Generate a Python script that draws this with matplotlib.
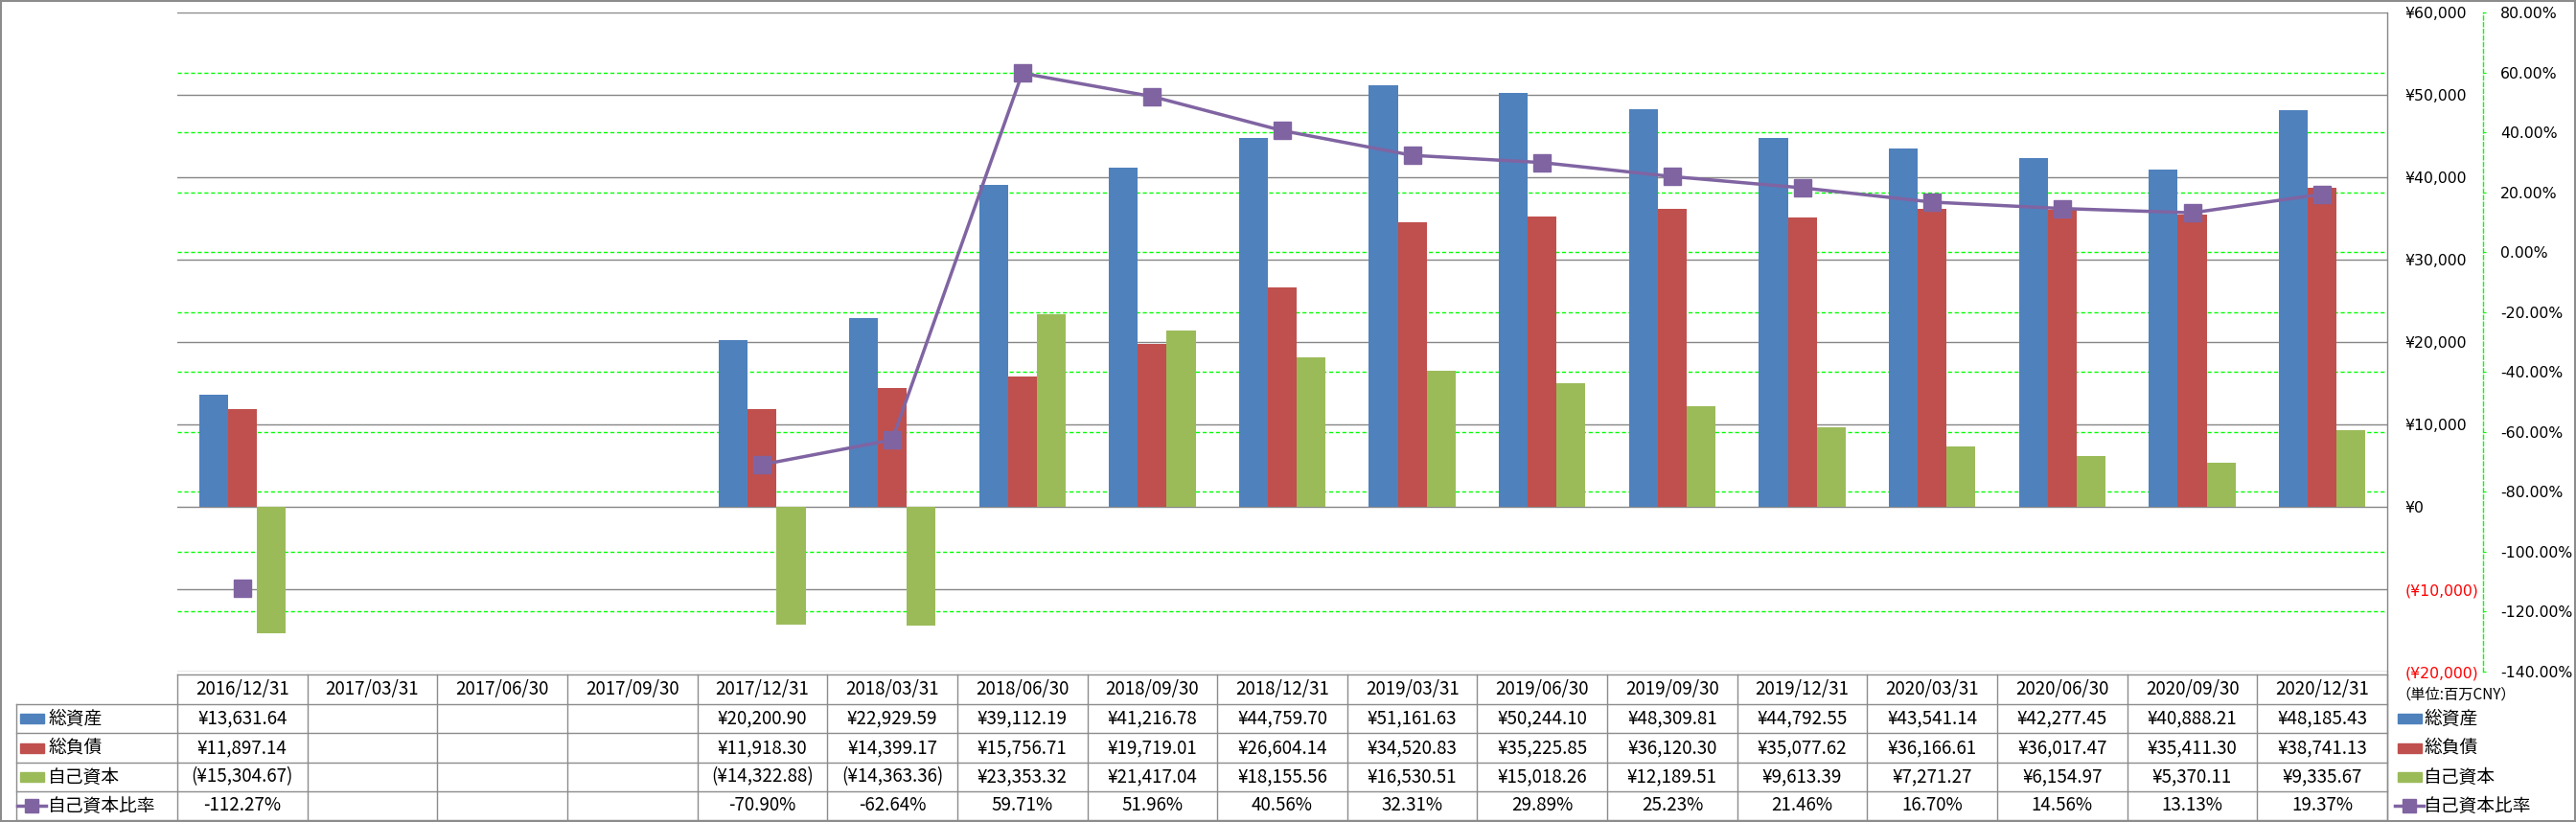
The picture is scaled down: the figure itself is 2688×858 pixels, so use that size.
import numpy as np
import matplotlib
matplotlib.use("Agg")
import matplotlib.pyplot as plt
from matplotlib.lines import Line2D
from matplotlib.patches import Rectangle
from matplotlib.ticker import FuncFormatter
from matplotlib.transforms import blended_transform_factory

plt.rcParams["font.family"] = ["DejaVu Sans"]
plt.rcParams["axes.unicode_minus"] = False

periods = [
    "2016/12/31", "2017/03/31", "2017/06/30", "2017/09/30", "2017/12/31",
    "2018/03/31", "2018/06/30", "2018/09/30", "2018/12/31", "2019/03/31",
    "2019/06/30", "2019/09/30", "2019/12/31", "2020/03/31", "2020/06/30",
    "2020/09/30", "2020/12/31",
]
nan = np.nan
total_assets = [13631.64, nan, nan, nan, 20200.90, 22929.59, 39112.19, 41216.78,
                44759.70, 51161.63, 50244.10, 48309.81, 44792.55, 43541.14,
                42277.45, 40888.21, 48185.43]
total_liabilities = [11897.14, nan, nan, nan, 11918.30, 14399.17, 15756.71, 19719.01,
                     26604.14, 34520.83, 35225.85, 36120.30, 35077.62, 36166.61,
                     36017.47, 35411.30, 38741.13]
equity = [-15304.67, nan, nan, nan, -14322.88, -14363.36, 23353.32, 21417.04,
          18155.56, 16530.51, 15018.26, 12189.51, 9613.39, 7271.27,
          6154.97, 5370.11, 9335.67]
equity_ratio = [-112.27, nan, nan, nan, -70.90, -62.64, 59.71, 51.96, 40.56,
                32.31, 29.89, 25.23, 21.46, 16.70, 14.56, 13.13, 19.37]

series_names = ["総資産", "総負債", "自己資本", "自己資本比率"]
unit_label = "（単位:百万CNY）"

BLUE = "#4F81BD"
RED = "#C0504D"
GREEN = "#9BBB59"
PURPLE = "#8064A2"
GRID_GRAY = "#868686"
TABLE_GRAY = "#8C8C8C"
LIME = "#00FF00"
JP_FONT = ["Noto Sans CJK JP", "DejaVu Sans"]

W, H, DPI = 2688, 858, 100


def fx(px):
    return px / W


def fy(py):
    return 1 - py / H


def yen(v):
    if np.isnan(v):
        return ""
    return f"¥{v:,.2f}" if v >= 0 else f"(¥{-v:,.2f})"


def pct(v):
    return "" if np.isnan(v) else f"{v:.2f}%"


fig = plt.figure(figsize=(W / DPI, H / DPI), dpi=DPI)
ax = fig.add_axes([fx(185), fy(701), fx(2491) - fx(185), fy(13) - fy(701)])
ax2 = ax.twinx()

x = np.arange(len(periods))
bw = 0.222
ax.bar(x - bw, total_assets, width=bw, color=BLUE, zorder=3)
ax.bar(x, total_liabilities, width=bw, color=RED, zorder=3)
ax.bar(x + bw, equity, width=bw, color=GREEN, zorder=3)

ax.set_xlim(-0.5, len(periods) - 0.5)
ax.set_ylim(-20000, 60000)
ax.set_xticks([])
ax.set_yticks(np.arange(-20000, 60001, 10000))
ax.yaxis.tick_right()
ax.yaxis.set_major_formatter(
    FuncFormatter(lambda v, _: f"¥{v:,.0f}" if v >= 0 else f"(¥{-v:,.0f})"))
ax.tick_params(axis="y", length=0, pad=13.5, labelsize=11.3)
for tick, v in zip(ax.yaxis.get_major_ticks(), ax.get_yticks()):
    tick.label2.set_color("#FF0000" if v < 0 else "black")
ax.yaxis.grid(True, color=GRID_GRAY, linewidth=1.0)
ax.set_axisbelow(True)
for side in ("left", "top", "bottom"):
    ax.spines[side].set_visible(False)
ax.spines["right"].set_color(GRID_GRAY)
ax.spines["right"].set_linewidth(1.0)

# secondary axis (ratio)
ax2.set_ylim(-140, 80)
ax2.set_yticks(np.arange(-140, 81, 20))
ax2.yaxis.set_major_formatter(FuncFormatter(lambda v, _: f"{v:.2f}%"))
ax2.tick_params(axis="y", length=2.5, color=LIME, pad=10.5, labelsize=11.3)
for tick, v in zip(ax2.yaxis.get_major_ticks(), ax2.get_yticks()):
    tick.label2.set_color("#FF0000" if v < 0 else "black")
for side in ("left", "top", "bottom"):
    ax2.spines[side].set_visible(False)
ax2.spines["right"].set_position(("outward", 72))
ax2.spines["right"].set_color(LIME)
ax2.spines["right"].set_linestyle((0, (3, 2)))
ax2.spines["right"].set_linewidth(1.0)

# green dashed gridlines for the ratio axis, kept behind the gray grid and bars
grid_tr = blended_transform_factory(ax.transAxes, ax2.transData)
for v in ax2.get_yticks()[1:-1]:
    ax.add_line(Line2D([0, 1], [v, v], transform=grid_tr, color=LIME,
                       linewidth=1.0, linestyle=(0, (3, 2)), zorder=0.4))

ax2.plot(x, equity_ratio, color=PURPLE, linewidth=2.5, marker="s",
         markersize=13, markeredgecolor=PURPLE, markerfacecolor=PURPLE, zorder=5)

# --- data table under the plot ---
row_edges = [704, 735, 765, 796, 826, 856]
row_mid = [(a + b) / 2 for a, b in zip(row_edges[:-1], row_edges[1:])]
tr = blended_transform_factory(ax.transData, fig.transFigure)

for i in range(len(periods) + 1):
    fig.add_artist(Line2D([i - 0.5, i - 0.5], [fy(704), fy(856)], transform=tr,
                          color=TABLE_GRAY, linewidth=1.0))
fig.add_artist(Line2D([-0.5, len(periods) - 0.5], [fy(704), fy(704)], transform=tr,
                      color=TABLE_GRAY, linewidth=1.0))
for py in row_edges[1:]:
    fig.add_artist(Line2D([fx(17), fx(2491)], [fy(py), fy(py)],
                          color=TABLE_GRAY, linewidth=1.0))
fig.add_artist(Line2D([fx(17), fx(17)], [fy(735), fy(856)],
                      color=TABLE_GRAY, linewidth=1.0))
fig.add_artist(Line2D([fx(2491), fx(2491)], [fy(701), fy(858)],
                      color=TABLE_GRAY, linewidth=1.0))

rows = [
    periods,
    [yen(v) for v in total_assets],
    [yen(v) for v in total_liabilities],
    [yen(v) for v in equity],
    [pct(v) for v in equity_ratio],
]
for r, cells in enumerate(rows):
    for i, s in enumerate(cells):
        fig.text(i, fy(row_mid[r]), s, transform=tr, ha="center", va="center",
                 fontsize=13.5, family=JP_FONT)

# legend keys (left of table and right of table)
colors = [BLUE, RED, GREEN]
for key_x, text_x in ((21, 50), (2502, 2529)):
    for r, (name, c) in enumerate(zip(series_names[:3], colors)):
        y = row_mid[r + 1]
        fig.add_artist(Rectangle((fx(key_x), fy(y + 5)), fx(25), 10 / H,
                                 color=c, transform=fig.transFigure))
        fig.text(fx(text_x), fy(y), name, ha="left", va="center",
                 fontsize=13.5, family=JP_FONT)
    y = row_mid[4]
    fig.add_artist(Line2D([fx(key_x - 3), fx(key_x + 27)], [fy(y), fy(y)],
                          color=PURPLE, linewidth=2.5))
    fig.add_artist(Line2D([fx(key_x + 12)], [fy(y)], color=PURPLE, marker="s",
                          markersize=10, linestyle="none"))
    fig.text(fx(text_x), fy(y), series_names[3], ha="left", va="center",
             fontsize=13.5, family=JP_FONT)

fig.text(fx(2500), fy(725), unit_label, ha="left", va="center",
         fontsize=11, family=JP_FONT)

# outer chart border
fig.add_artist(Rectangle((0.0004, 0.0012), 0.9992, 0.9976, fill=False,
                         edgecolor=TABLE_GRAY, linewidth=1.5,
                         transform=fig.transFigure))

fig.savefig("out.png", dpi=DPI)
